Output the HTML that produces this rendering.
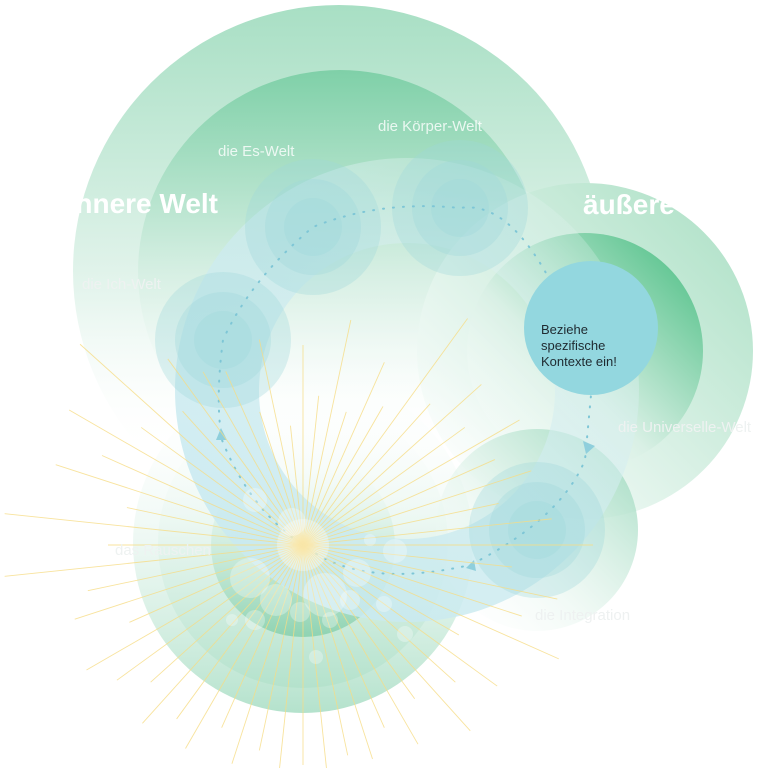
<!DOCTYPE html>
<html><head><meta charset="utf-8"><style>
html,body{margin:0;padding:0;background:#fff}
svg{display:block}
text{font-family:"Liberation Sans",sans-serif}
</style></head><body>
<svg width="768" height="768" viewBox="0 0 768 768" xmlns="http://www.w3.org/2000/svg">
<defs>
<linearGradient id="gBig" x1="0" y1="0" x2="0" y2="1">
<stop offset="0" stop-color="#a8dfc4"/><stop offset="0.55" stop-color="#e6f5ee"/><stop offset="0.85" stop-color="#ffffff" stop-opacity="0"/></linearGradient>
<linearGradient id="gMid" x1="0" y1="0" x2="0" y2="1">
<stop offset="0" stop-color="#7fd0a8"/><stop offset="0.5" stop-color="#d6efe3"/><stop offset="0.85" stop-color="#ffffff" stop-opacity="0"/></linearGradient>
<linearGradient id="gRing" x1="0.15" y1="0.9" x2="0.85" y2="0.1">
<stop offset="0" stop-color="#c9eaf1"/><stop offset="0.5" stop-color="#cdebef" stop-opacity="0.85"/><stop offset="1" stop-color="#e4f4f0" stop-opacity="0.25"/></linearGradient>
<linearGradient id="gR1" x1="1" y1="0" x2="0" y2="1">
<stop offset="0" stop-color="#a9dfc3"/><stop offset="0.7" stop-color="#eaf7f1"/><stop offset="1" stop-color="#fff" stop-opacity="0"/></linearGradient>
<linearGradient id="gR2" x1="1" y1="0.2" x2="0.2" y2="1">
<stop offset="0" stop-color="#5cc48f"/><stop offset="0.6" stop-color="#d9f0e5"/><stop offset="1" stop-color="#fff" stop-opacity="0"/></linearGradient>
<linearGradient id="gB" x1="0" y1="1" x2="0" y2="0">
<stop offset="0" stop-color="#b4e2cc"/><stop offset="0.6" stop-color="#e8f6f0" stop-opacity="0.5"/><stop offset="1" stop-color="#fff" stop-opacity="0"/></linearGradient>
<linearGradient id="gB2" x1="0" y1="1" x2="0" y2="0">
<stop offset="0" stop-color="#8fd3b2"/><stop offset="0.6" stop-color="#d0ede0" stop-opacity="0.6"/><stop offset="1" stop-color="#fff" stop-opacity="0"/></linearGradient>
<linearGradient id="gBR" x1="1" y1="0" x2="0" y2="1">
<stop offset="0" stop-color="#9ad8bc"/><stop offset="0.6" stop-color="#e3f4ec" stop-opacity="0.5"/><stop offset="1" stop-color="#fff" stop-opacity="0"/></linearGradient>
<radialGradient id="sun"><stop offset="0" stop-color="#fbeeb0"/><stop offset="1" stop-color="#fff8dc" stop-opacity="0"/></radialGradient>
</defs>

<circle cx="339" cy="271" r="266" fill="url(#gBig)"/>
<circle cx="340" cy="272" r="202" fill="url(#gMid)"/>

<circle cx="585" cy="351" r="168" fill="url(#gR1)"/>
<circle cx="585" cy="351" r="118" fill="url(#gR2)"/>

<circle cx="303" cy="543" r="170" fill="url(#gB)"/>
<circle cx="303" cy="543" r="145" fill="url(#gB)"/>
<circle cx="303" cy="545" r="92" fill="url(#gB2)"/>

<circle cx="537" cy="530" r="101" fill="url(#gBR)"/>

<path fill-rule="evenodd" fill="url(#gRing)" opacity="0.9" d="M407,158 a232,232 0 1,0 0.01,0 Z M407,243 a148,148 0 1,1 -0.01,0 Z"/>

<g fill="#9fd8dc" fill-opacity="0.33">
<circle cx="313" cy="227" r="68"/><circle cx="313" cy="227" r="48"/><circle cx="313" cy="227" r="29"/>
<circle cx="460" cy="208" r="68"/><circle cx="460" cy="208" r="48"/><circle cx="460" cy="208" r="29"/>
<circle cx="223" cy="340" r="68"/><circle cx="223" cy="340" r="48"/><circle cx="223" cy="340" r="29"/>
<circle cx="537" cy="530" r="68"/><circle cx="537" cy="530" r="48"/><circle cx="537" cy="530" r="29"/>
</g>

<g fill="none" stroke="#7ec6d6" stroke-width="2" stroke-dasharray="1 9" stroke-linecap="round">
<path d="M555,290 Q510,200 460,208 Q380,200 313,227 Q250,280 223,340 Q215,400 222,440 Q250,510 303,545 Q360,590 470,565 Q560,520 585,460 L591,395"/>
</g>
<g fill="#8fcfdc">
<polygon points="221,428 227,440 216,440"/>
<polygon points="583,441 595,446 586,454"/>
<polygon points="466,568 474,560 476,571"/>
</g>

<circle cx="303" cy="545" r="28" fill="url(#sun)"/>
<g transform="translate(303,545)" stroke="#f6dc85" stroke-width="0.9" stroke-opacity="0.8">
<line x2="290" transform="rotate(0)"/><line x2="210" transform="rotate(6)"/><line x2="260" transform="rotate(12)"/>
<line x2="230" transform="rotate(18)"/><line x2="280" transform="rotate(24)"/><line x2="180" transform="rotate(30)"/>
<line x2="240" transform="rotate(36)"/><line x2="205" transform="rotate(42)"/><line x2="250" transform="rotate(48)"/>
<line x2="190" transform="rotate(54)"/><line x2="230" transform="rotate(60)"/><line x2="200" transform="rotate(66)"/>
<line x2="225" transform="rotate(72)"/><line x2="215" transform="rotate(78)"/><line x2="230" transform="rotate(84)"/>
<line x2="220" transform="rotate(90)"/><line x2="225" transform="rotate(96)"/><line x2="210" transform="rotate(102)"/>
<line x2="230" transform="rotate(108)"/><line x2="200" transform="rotate(114)"/><line x2="235" transform="rotate(120)"/>
<line x2="215" transform="rotate(126)"/><line x2="240" transform="rotate(132)"/><line x2="205" transform="rotate(138)"/>
<line x2="230" transform="rotate(144)"/><line x2="250" transform="rotate(150)"/><line x2="190" transform="rotate(156)"/>
<line x2="240" transform="rotate(162)"/><line x2="220" transform="rotate(168)"/><line x2="300" transform="rotate(174)"/>
<line x2="195" transform="rotate(180)"/><line x2="300" transform="rotate(186)"/><line x2="180" transform="rotate(192)"/>
<line x2="260" transform="rotate(198)"/><line x2="220" transform="rotate(204)"/><line x2="270" transform="rotate(210)"/>
<line x2="200" transform="rotate(216)"/><line x2="300" transform="rotate(222)"/><line x2="180" transform="rotate(228)"/>
<line x2="230" transform="rotate(234)"/><line x2="200" transform="rotate(240)"/><line x2="190" transform="rotate(246)"/>
<line x2="140" transform="rotate(252)"/><line x2="210" transform="rotate(258)"/><line x2="120" transform="rotate(264)"/>
<line x2="200" transform="rotate(270)"/><line x2="150" transform="rotate(276)"/><line x2="230" transform="rotate(282)"/>
<line x2="140" transform="rotate(288)"/><line x2="200" transform="rotate(294)"/><line x2="160" transform="rotate(300)"/>
<line x2="280" transform="rotate(306)"/><line x2="190" transform="rotate(312)"/><line x2="240" transform="rotate(318)"/>
<line x2="200" transform="rotate(324)"/><line x2="250" transform="rotate(330)"/><line x2="210" transform="rotate(336)"/>
<line x2="240" transform="rotate(342)"/><line x2="200" transform="rotate(348)"/><line x2="250" transform="rotate(354)"/>
</g>

<g fill="#ffffff" fill-opacity="0.3">
<circle cx="303" cy="545" r="26"/><circle cx="292" cy="522" r="14"/><circle cx="250" cy="578" r="20"/>
<circle cx="276" cy="600" r="16"/><circle cx="325" cy="595" r="22"/><circle cx="357" cy="573" r="14"/>
<circle cx="395" cy="551" r="12"/><circle cx="255" cy="500" r="12"/><circle cx="300" cy="612" r="10"/>
<circle cx="330" cy="620" r="8"/><circle cx="384" cy="604" r="8"/><circle cx="405" cy="634" r="8"/>
<circle cx="255" cy="620" r="10"/><circle cx="316" cy="657" r="7"/><circle cx="370" cy="540" r="6"/>
<circle cx="232" cy="620" r="6"/><circle cx="350" cy="600" r="10"/>
</g>

<circle cx="591" cy="328" r="67" fill="#93d7df"/>
<text x="541" y="334" font-size="13" fill="#1f2a30">Beziehe</text>
<text x="541" y="350" font-size="13" fill="#1f2a30">spezifische</text>
<text x="541" y="366" font-size="13" fill="#1f2a30">Kontexte ein!</text>

<text x="218" y="213" font-size="28" font-weight="bold" fill="#ffffff" text-anchor="end">nnere Welt</text>
<text x="583" y="214" font-size="28" font-weight="bold" fill="#ffffff">äußere</text>
<text x="218" y="156" font-size="15" fill="#ffffff" fill-opacity="0.8">die Es-Welt</text>
<text x="378" y="131" font-size="15" fill="#ffffff" fill-opacity="0.8">die Körper-Welt</text>
<text x="82" y="289" font-size="15" fill="#eef2f1">die Ich-Welt</text>
<text x="618" y="432" font-size="15" fill="#eef2f1">die Universelle-Welt</text>
<text x="115" y="555" font-size="15" fill="#eef2f1">das Rauschen</text>
<text x="535" y="620" font-size="15" fill="#eef1f1">die Integration</text>
</svg>
</body></html>
